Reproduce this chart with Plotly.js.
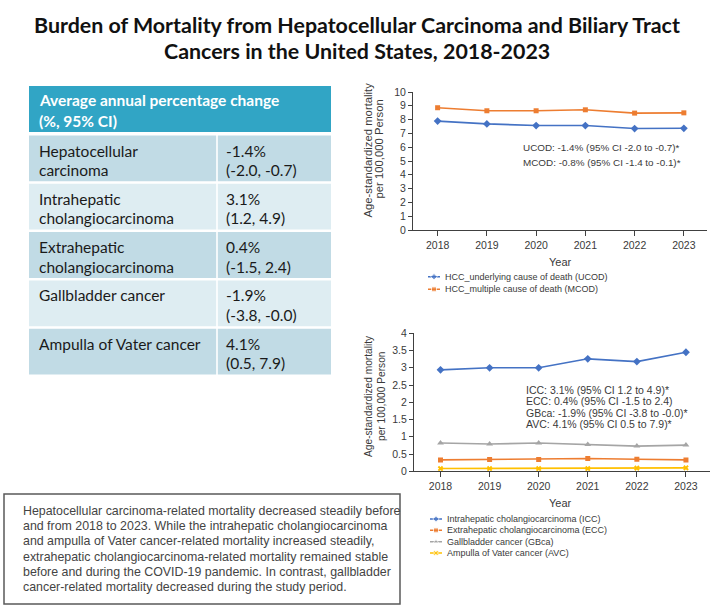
<!DOCTYPE html>
<html><head><meta charset="utf-8">
<script src="https://cdn.plot.ly/plotly-3.0.1.min.js"></script>
<style>html,body{margin:0;padding:0;background:#fff;} #chart{width:714px;height:610px;}</style>
</head><body><div id="chart"></div>
<script>
// ---------------- data ----------------
const years = [2018, 2019, 2020, 2021, 2022, 2023];
const hccUcod = [7.89, 7.69, 7.57, 7.57, 7.35, 7.37];
const hccMcod = [8.86, 8.64, 8.64, 8.71, 8.47, 8.49];
const iccRate = [2.94, 3.00, 3.00, 3.26, 3.18, 3.45];
const eccRate = [0.33, 0.34, 0.34, 0.37, 0.35, 0.33];
const gbcaRate = [0.82, 0.79, 0.82, 0.78, 0.73, 0.76];
const avcRate = [0.08, 0.08, 0.08, 0.08, 0.09, 0.10];

const topNames = ["HCC_underlying cause of death (UCOD)", "HCC_multiple cause of death (MCOD)"];
const topAbbr = ["UCOD", "MCOD"];
const topAapc = ["-1.4", "-0.8"];
const topLow = ["-2.0", "-1.4"];
const topHigh = ["-0.7", "-0.1"];
const topSig = [true, true];

const bottomNames = ["Intrahepatic cholangiocarcinoma (ICC)", "Extrahepatic cholangiocarcinoma (ECC)", "Gallbladder cancer (GBca)", "Ampulla of Vater cancer (AVC)"];
const bottomAbbr = ["ICC", "ECC", "GBca", "AVC"];
const bottomAapc = ["3.1", "0.4", "-1.9", "4.1"];
const bottomLow = ["1.2", "-1.5", "-3.8", "0.5"];
const bottomHigh = ["4.9", "2.4", "-0.0", "7.9"];
const bottomSig = [true, false, true, true];

const tableCancers = [["Hepatocellular", "carcinoma"], ["Intrahepatic", "cholangiocarcinoma"], ["Extrahepatic", "cholangiocarcinoma"], ["Gallbladder cancer"], ["Ampulla of Vater cancer"]];
const tableAapc = ["-1.4%", "3.1%", "0.4%", "-1.9%", "4.1%"];
const tableCi = ["(-2.0, -0.7)", "(1.2, 4.9)", "(-1.5, 2.4)", "(-3.8, -0.0)", "(0.5, 7.9)"];
const tableHeaderLines = ["Average annual percentage change", "(%, 95% CI)"];

const titleLines = ["Burden of Mortality from Hepatocellular Carcinoma and Biliary Tract", "Cancers in the United States, 2018-2023"];
const summaryLines = [
  "Hepatocellular carcinoma-related mortality decreased steadily before",
  "and from 2018 to 2023. While the intrahepatic cholangiocarcinoma",
  "and ampulla of Vater cancer-related mortality increased steadily,",
  "extrahepatic cholangiocarcinoma-related mortality remained stable",
  "before and during the COVID-19 pandemic. In contrast, gallbladder",
  "cancer-related mortality decreased during the study period."
];
const yTitleLines = ["Age-standardized mortality", "per 100,000 Person"];

// ---------------- styles ----------------
const W = 714, H = 610;
const px = x => x / W;
const py = y => 1 - y / H;
const SANS = '"Liberation Sans", Arial, sans-serif';
const CAL = 'Lato, "Open Sans", sans-serif';
const AX = '#404040';
const TXT = '#3a3a3a';
const TEAL = '#31a5c5';
const ROW_DARK = '#c1dbe5';
const ROW_LIGHT = '#deedf2';

const topColors = ['#4472c4', '#ed7d31'];
const topSymbols = ['diamond', 'square'];
const topSizes = [6, 5];
const bottomColors = ['#4472c4', '#ed7d31', '#a5a5a5', '#ffc000'];
const bottomSymbols = ['diamond', 'square', 'triangle-up', 'x'];
const bottomSizes = [6, 5, 6, 5];

const topSeries = [hccUcod, hccMcod];
const bottomSeries = [iccRate, eccRate, gbcaRate, avcRate];

const traces = [];
const annotations = [];
const shapes = [];

topSeries.forEach((s, i) => traces.push({
  type: 'scatter', mode: 'lines+markers', x: years, y: s, xaxis: 'x', yaxis: 'y',
  line: {color: topColors[i], width: 1.6}, marker: {symbol: topSymbols[i], size: topSizes[i], color: topColors[i]},
  showlegend: false, hoverinfo: 'x+y'
}));
bottomSeries.forEach((s, i) => traces.push({
  type: 'scatter', mode: 'lines+markers', x: years, y: s, xaxis: 'x2', yaxis: 'y2',
  line: {color: bottomColors[i], width: 1.6}, marker: {symbol: bottomSymbols[i], size: bottomSizes[i], color: bottomColors[i]},
  showlegend: false, hoverinfo: 'x+y'
}));

// legend keys drawn on their own small axes
topNames.forEach((n, i) => {
  traces.push({type: 'scatter', mode: 'lines+markers', x: [0, 0.5, 1], y: [i, i, i], xaxis: 'x3', yaxis: 'y3',
    line: {color: topColors[i], width: 1.5}, marker: {symbol: topSymbols[i], size: [0, 5, 0], color: topColors[i]},
    showlegend: false, hoverinfo: 'skip'});
  annotations.push({xref: 'x3', yref: 'y3', x: 1, y: i, text: n, xanchor: 'left', xshift: 3, showarrow: false,
    font: {family: SANS, size: 9, color: TXT}});
});
bottomNames.forEach((n, i) => {
  traces.push({type: 'scatter', mode: 'lines+markers', x: [0, 0.5, 1], y: [i, i, i], xaxis: 'x4', yaxis: 'y4',
    line: {color: bottomColors[i], width: 1.5}, marker: {symbol: bottomSymbols[i], size: [0, 5, 0], color: bottomColors[i]},
    showlegend: false, hoverinfo: 'skip'});
  annotations.push({xref: 'x4', yref: 'y4', x: 1, y: i, text: n, xanchor: 'left', xshift: 3, showarrow: false,
    font: {family: SANS, size: 9, color: TXT}});
});

// ---------------- AAPC table (built from the table arrays) ----------------
const T = {x0: 29, xMid: 216.2, xMid2: 217.8, x1: 331, headTop: 86, headBottom: 132, rowTop: 135.5, rowStep: 48.3, rowH: 45.8, col2Text: 224};
shapes.push({type: 'rect', xref: 'paper', yref: 'paper', x0: px(T.x0), x1: px(T.x1), y0: py(T.headBottom), y1: py(T.headTop),
  line: {width: 0}, fillcolor: TEAL, layer: 'below'});
tableHeaderLines.forEach((t, i) => annotations.push({xref: 'paper', yref: 'paper', x: px(37), y: py(100.5 + i * 21), xanchor: 'left', yanchor: 'middle',
  text: '<b>' + t + '</b>', showarrow: false, font: {family: CAL, size: 15.5, color: '#ffffff'}}));
tableCancers.forEach((lines, i) => {
  const top = T.rowTop + i * T.rowStep;
  const fill = i % 2 ? ROW_LIGHT : ROW_DARK;
  shapes.push({type: 'rect', xref: 'paper', yref: 'paper', x0: px(T.x0), x1: px(T.xMid), y0: py(top + T.rowH), y1: py(top),
    line: {width: 0}, fillcolor: fill, layer: 'below'});
  shapes.push({type: 'rect', xref: 'paper', yref: 'paper', x0: px(T.xMid2), x1: px(T.x1), y0: py(top + T.rowH), y1: py(top),
    line: {width: 0}, fillcolor: fill, layer: 'below'});
  lines.forEach((t, j) => annotations.push({xref: 'paper', yref: 'paper', x: px(37), y: py(top + 15 + j * 19.6), xanchor: 'left', yanchor: 'middle',
    text: t, showarrow: false, font: {family: CAL, size: 15.5, color: '#1a1a1a'}}));
  [tableAapc[i], tableCi[i]].forEach((t, j) => annotations.push({xref: 'paper', yref: 'paper', x: px(T.col2Text), y: py(top + 15 + j * 19.6), xanchor: 'left', yanchor: 'middle',
    text: t, showarrow: false, font: {family: CAL, size: 15.5, color: '#1a1a1a'}}));
});

// title
titleLines.forEach((t, i) => annotations.push({xref: 'paper', yref: 'paper', x: 0.5, y: py(i === 0 ? 25 : 50.8), yanchor: 'middle',
  text: '<b>' + t + '</b>', showarrow: false, font: {family: CAL, size: 21.4, color: '#111'}}));

// in-chart stats
topAbbr.forEach((a, i) => annotations.push({xref: 'paper', yref: 'paper', x: px(521), y: py(147 + i * 15.5), xanchor: 'left', yanchor: 'middle',
  text: a + ': ' + topAapc[i] + '% (95% CI ' + topLow[i] + ' to ' + topHigh[i] + ')' + (topSig[i] ? '*' : ''),
  showarrow: false, font: {family: SANS, size: 9.9, color: TXT}}));
bottomAbbr.forEach((a, i) => annotations.push({xref: 'paper', yref: 'paper', x: px(524), y: py(390 + i * 11.4), xanchor: 'left', yanchor: 'middle',
  text: a + ': ' + bottomAapc[i] + '% (95% CI ' + bottomLow[i] + ' to ' + bottomHigh[i] + ')' + (bottomSig[i] ? '*' : ''),
  showarrow: false, font: {family: SANS, size: 10.5, color: TXT}}));

// axis titles
[[367, 378, 149.5, 11.3], [368, 381, 396, 10.2]].forEach(([x1, x2, yc, fs]) => {
  [x1, x2].forEach((xx, j) => annotations.push({xref: 'paper', yref: 'paper', x: px(xx), y: py(yc), xanchor: 'center', yanchor: 'middle',
    text: yTitleLines[j], textangle: -90, showarrow: false, font: {family: SANS, size: fs, color: TXT}}));
});
[[560, 261.7], [560, 503]].forEach(([xx, yy]) => annotations.push({xref: 'paper', yref: 'paper', x: px(xx), y: py(yy), xanchor: 'center', yanchor: 'middle',
  text: 'Year', showarrow: false, font: {family: SANS, size: 11, color: TXT}}));

// summary box
shapes.push({type: 'rect', xref: 'paper', yref: 'paper', x0: px(4), x1: px(400), y0: py(604), y1: py(494),
  line: {color: '#5a5a5a', width: 1.5}, fillcolor: 'rgba(0,0,0,0)'});
summaryLines.forEach((t, i) => annotations.push({xref: 'paper', yref: 'paper', x: px(21), y: py(511 + i * 15.2), xanchor: 'left', yanchor: 'middle',
  text: t, showarrow: false, font: {family: SANS, size: 12.4, color: '#444'}}));

const axisCommon = {showline: true, linecolor: AX, linewidth: 1, ticks: 'outside', tickcolor: AX, tickwidth: 1,
  showgrid: false, zeroline: false, tickfont: {family: SANS, size: 10.5, color: TXT}, fixedrange: true};

const layout = {
  width: W, height: H, margin: {l: 0, r: 0, t: 0, b: 0}, paper_bgcolor: '#fff', plot_bgcolor: 'rgba(0,0,0,0)',
  showlegend: false,
  xaxis: Object.assign({}, axisCommon, {domain: [px(413), px(707)], range: [2017.5, 2023.47], tickvals: years, ticklen: 5, anchor: 'y'}),
  yaxis: Object.assign({}, axisCommon, {domain: [py(230), py(92)], range: [0, 10], dtick: 1, ticklen: 4, anchor: 'x'}),
  xaxis2: Object.assign({}, axisCommon, {domain: [px(414), px(710)], range: [2017.46, 2023.49], tickvals: years, ticklen: 5, anchor: 'y2'}),
  yaxis2: Object.assign({}, axisCommon, {domain: [py(471.3), py(333.3)], range: [0, 4], dtick: 0.5, ticklen: 4, anchor: 'x2'}),
  xaxis3: {domain: [px(428), px(440)], range: [0, 1], visible: false, anchor: 'y3', fixedrange: true},
  yaxis3: {domain: [py(295.6), py(270.4)], range: [1.5, -0.5], visible: false, anchor: 'x3', fixedrange: true},
  xaxis4: {domain: [px(430), px(442)], range: [0, 1], visible: false, anchor: 'y4', fixedrange: true},
  yaxis4: {domain: [py(558.7), py(513.3)], range: [3.5, -0.5], visible: false, anchor: 'x4', fixedrange: true},
  annotations: annotations,
  shapes: shapes
};

Plotly.newPlot('chart', traces, layout, {displayModeBar: false, staticPlot: true});
</script></body></html>
